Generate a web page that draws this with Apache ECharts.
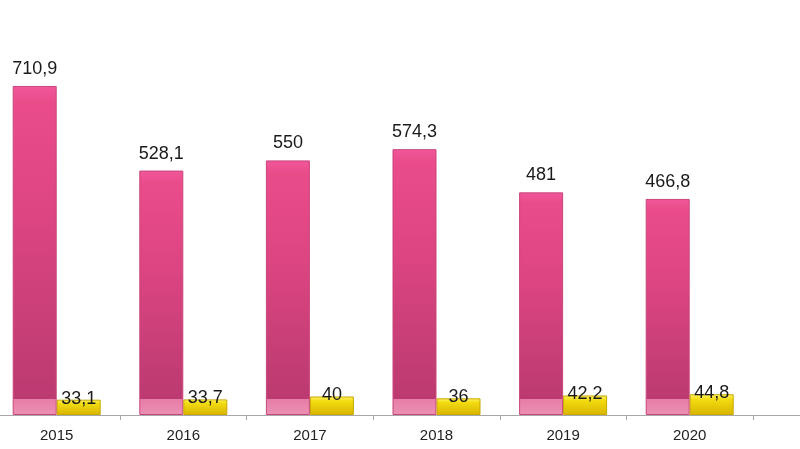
<!DOCTYPE html>
<html>
<head>
<meta charset="utf-8">
<script src="https://cdn.jsdelivr.net/npm/echarts@6/dist/echarts.min.js"></script>
<style>html,body{margin:0;padding:0;background:#fff}#c{width:800px;height:449px}</style>
</head>
<body>
<div id="c"></div>
<script>
var categories = ['2015', '2016', '2017', '2018', '2019', '2020', ''];
var pinkValues = [710.9, 528.1, 550, 574.3, 481, 466.8, '-'];
var yellowValues = [33.1, 33.7, 40, 36, 42.2, 44.8, '-'];
var pinkLabels = ['710,9', '528,1', '550', '574,3', '481', '466,8', ''];
var yellowLabels = ['33,1', '33,7', '40', '36', '42,2', '44,8', ''];

var yMax = 800;
var gridTop = 44.7, gridBottom = 34; // baseline at y=415
var plotH = 449 - gridTop - gridBottom;
var FONT = 'Liberation Sans, Arial, sans-serif';

function pinkItem(v, i) {
  if (v === '-') return v;
  var h = v / yMax * plotH;
  var s = Math.max(0.5, 1 - 16 / h);
  return {
    value: v,
    itemStyle: {
      color: {
        type: 'linear', x: 0, y: 0, x2: 0, y2: 1,
        colorStops: [
          {offset: 0, color: '#f0579a'},
          {offset: 0.05, color: '#ea4c8a'},
          {offset: 0.4, color: '#dc4581'},
          {offset: s - 0.001, color: '#bb3a70'},
          {offset: s, color: '#e67da8'},
          {offset: 1, color: '#ec90b5'}
        ]
      }
    }
  };
}

var chart = echarts.init(document.getElementById('c'));
chart.setOption({
  animation: false,
  backgroundColor: '#ffffff',
  grid: {left: -6.6, width: 886.2, top: gridTop, height: plotH, containLabel: false, outerBoundsMode: 'none'},
  xAxis: {
    type: 'category',
    data: categories,
    axisLine: {lineStyle: {color: '#a8a8a8', width: 1}},
    axisTick: {show: true, length: 5, lineStyle: {color: '#a8a8a8'}},
    axisLabel: {color: '#222', fontSize: 15, fontFamily: FONT, margin: 13}
  },
  yAxis: {type: 'value', min: 0, max: yMax, show: false, splitLine: {show: false}},
  series: [
    {
      type: 'bar',
      data: pinkValues.map(pinkItem),
      barWidth: 44,
      barGap: '0%',
      itemStyle: {borderColor: '#c9457a', borderWidth: 1},
      label: {
        show: true, position: 'top', distance: 8,
        color: '#1a1a1a', fontSize: 18, fontFamily: FONT,
        formatter: function (p) { return pinkLabels[p.dataIndex]; }
      }
    },
    {
      type: 'bar',
      data: yellowValues,
      barWidth: 44,
      barGap: '0%',
      itemStyle: {
        borderColor: '#c9a800', borderWidth: 1,
        color: {
          type: 'linear', x: 0, y: 0, x2: 0, y2: 1,
          colorStops: [
            {offset: 0, color: '#fff36a'},
            {offset: 0.25, color: '#f2dc10'},
            {offset: 1, color: '#d8b400'}
          ]
        }
      },
      label: {
        show: true, position: 'top', distance: -8,
        color: '#1a1a1a', fontSize: 18, fontFamily: FONT,
        formatter: function (p) { return yellowLabels[p.dataIndex]; }
      }
    }
  ]
});
</script>
</body>
</html>
